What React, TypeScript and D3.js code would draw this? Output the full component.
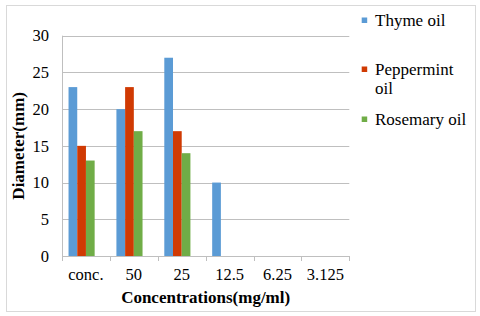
import React from "react";
import * as d3 from "d3";

const categories = ["conc.", "50", "25", "12.5", "6.25", "3.125"];
const seriesNames = ["Thyme oil", "Peppermint oil", "Rosemary oil"];
const thyme = [23, 20, 27, 10, 0, 0];
const peppermint = [15, 23, 17, 0, 0, 0];
const rosemary = [13, 17, 14, 0, 0, 0];
const yTicks = [0, 5, 10, 15, 20, 25, 30];
const colors = ["#5b9bd5", "#d03a03", "#70ad47"];

const W = 480, H = 316;
const FONT = "Liberation Serif";

function measure(text: string, size: number) {
  const c = document.createElement("canvas").getContext("2d");
  if (!c) return text.length * size * 0.45;
  c.font = `${size}px "Liberation Serif"`;
  return c.measureText(text).width;
}

function wrap(text: string, size: number, maxW: number): string[] {
  const words = text.split(" ");
  const lines: string[] = [];
  let cur = "";
  for (const w of words) {
    const t = cur ? cur + " " + w : w;
    if (cur && measure(t, size) > maxW) {
      lines.push(cur);
      cur = w;
    } else cur = t;
  }
  if (cur) lines.push(cur);
  return lines;
}

const txt = (size: number, bold = false): React.CSSProperties => ({
  fontFamily: FONT,
  fontSize: size,
  fontWeight: bold ? "bold" : "normal",
});

export default function App() {
  const x0 = 62, x1 = 349.3, y0 = 256, y1 = 35.7;
  const x = d3.scaleBand<string>().domain(categories).range([x0, x1]).paddingInner(0).paddingOuter(0);
  const y = d3.scaleLinear().domain([0, 30]).range([y0, y1]);
  const band = x.bandwidth();
  const bw = band / 5.5;
  const series = [thyme, peppermint, rosemary];
  const legendSize = 17;
  const legendLines = seriesNames.map((n) => wrap(n, legendSize, 98));
  const legendBase = [26, 75, 125];

  return (
    <svg width={W} height={H} style={{ position: "absolute", left: 0, top: 0 }}>
      <rect x={0} y={0} width={W} height={H} fill="#fff" />
      <rect x={6.5} y={5.5} width={469} height={306} fill="none" stroke="#d9d9d9" strokeWidth={1} />
      {yTicks.map((t) => (
        <g key={t}>
          {t > 0 && (
            <line x1={x0} x2={x1} y1={Math.round(y(t)) + 0.5} y2={Math.round(y(t)) + 0.5} stroke="#bfbfbf" strokeWidth={1} />
          )}
          <text x={49} y={y(t)} dy="0.35em" textAnchor="end" style={txt(16.5)} fill="#000">
            {t}
          </text>
        </g>
      ))}
      <line x1={x0 + 0.5} x2={x0 + 0.5} y1={y1} y2={y0} stroke="#bfbfbf" />
      {series.map((vals, si) =>
        vals.map((v, ci) =>
          v > 0 ? (
            <rect
              key={`${si}-${ci}`}
              x={(x(categories[ci]) as number) + bw * 0.75 + si * bw}
              y={y(v)}
              width={bw}
              height={y0 - y(v)}
              fill={colors[si]}
            />
          ) : null
        )
      )}
      <line x1={x0} x2={x1} y1={y0 + 0.5} y2={y0 + 0.5} stroke="#bfbfbf" />
      {[...categories.map((c) => x(c) as number), x1].map((tx, i) => (
        <line key={i} x1={Math.round(tx) + 0.5} x2={Math.round(tx) + 0.5} y1={y0} y2={y0 + 5} stroke="#bfbfbf" />
      ))}
      {categories.map((c) => (
        <text key={c} x={(x(c) as number) + band / 2} y={279.5} textAnchor="middle" style={txt(16.5)} fill="#000">
          {c}
        </text>
      ))}
      <text x={(x0 + x1) / 2} y={303} textAnchor="middle" style={txt(17, true)} fill="#000">
        Concentrations(mg/ml)
      </text>
      <text
        transform={`translate(24,${(y0 + y1) / 2}) rotate(-90)`}
        textAnchor="middle"
        style={txt(17, true)}
        fill="#000"
      >
        Diameter(mm)
      </text>
      {seriesNames.map((n, i) => (
        <g key={n}>
          <rect x={361.7} y={legendBase[i] - 8.5} width={5.5} height={5.5} fill={colors[i]} />
          <text x={375} y={legendBase[i]} style={txt(legendSize)} fill="#000">
            {legendLines[i].map((l, j) => (
              <tspan key={j} x={375} dy={j === 0 ? 0 : 19}>
                {l}
              </tspan>
            ))}
          </text>
        </g>
      ))}
    </svg>
  );
}
